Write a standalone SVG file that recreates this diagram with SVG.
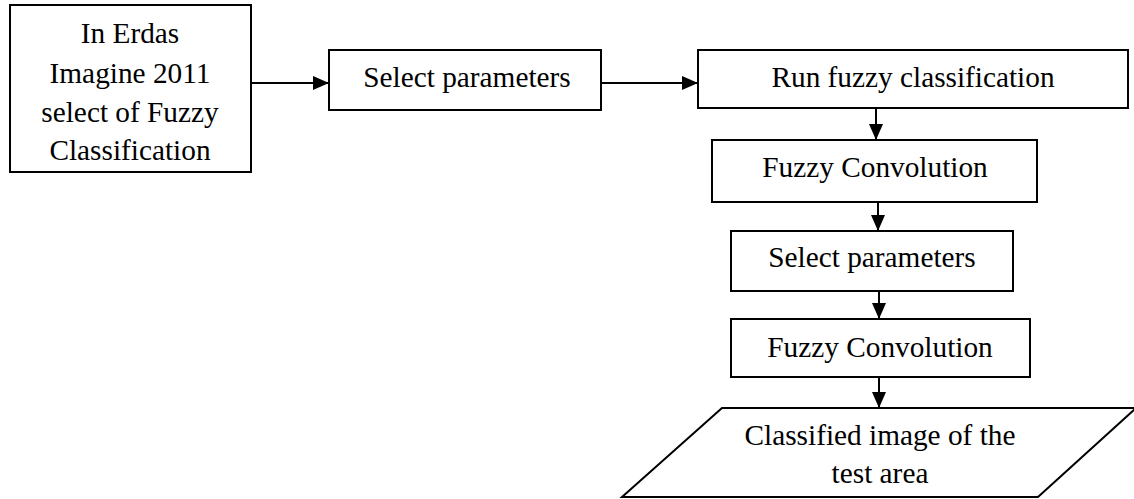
<svg xmlns="http://www.w3.org/2000/svg" width="1134" height="499" viewBox="0 0 1134 499">
<style>
.n{fill:#fff;stroke:#000;stroke-width:2}
.t{font-family:'Liberation Serif','Times New Roman',serif;font-size:29.3px;fill:#000;text-anchor:middle}
.c{stroke:#000;stroke-width:2;fill:none;marker-end:url(#ah)}
</style>
<defs>
<marker id="ah" viewBox="0 0 16 14" refX="16" refY="7" markerWidth="16" markerHeight="14" markerUnits="userSpaceOnUse" orient="auto">
<path d="M0,0 L16,7 L0,14 Z" fill="#000"/>
</marker>
</defs>
<rect width="1134" height="499" fill="#fff"/>
<g id="connectors">
<line class="c" x1="251" y1="83" x2="329" y2="83"/>
<line class="c" x1="601" y1="83" x2="698" y2="83"/>
<line class="c" x1="876" y1="108" x2="876" y2="140"/>
<line class="c" x1="878" y1="202" x2="878" y2="231"/>
<line class="c" x1="879" y1="291" x2="879" y2="319"/>
<line class="c" x1="879" y1="377" x2="879" y2="408"/>
</g>
<g id="n1">
<rect class="n" x="10" y="5" width="241" height="167"/>
<text class="t" x="130" y="43">In Erdas</text>
<text class="t" x="130" y="83">Imagine 2011</text>
<text class="t" x="130" y="122">select of Fuzzy</text>
<text class="t" x="130" y="160">Classification</text>
</g>
<g id="n2">
<rect class="n" x="329" y="50" width="272" height="60"/>
<text class="t" x="467" y="87">Select parameters</text>
</g>
<g id="n3">
<rect class="n" x="698" y="50" width="430" height="58"/>
<text class="t" x="913" y="87">Run fuzzy classification</text>
</g>
<g id="n4">
<rect class="n" x="712" y="140" width="325" height="62"/>
<text class="t" x="875" y="177">Fuzzy Convolution</text>
</g>
<g id="n5">
<rect class="n" x="731" y="231" width="282" height="60"/>
<text class="t" x="872" y="267">Select parameters</text>
</g>
<g id="n6">
<rect class="n" x="731" y="319" width="299" height="58"/>
<text class="t" x="880" y="357">Fuzzy Convolution</text>
</g>
<g id="n7">
<polygon class="n" points="722,408 1136,408 1038,497 622,497"/>
<text class="t" x="880" y="445">Classified image of the</text>
<text class="t" x="880" y="483">test area</text>
</g>
</svg>
